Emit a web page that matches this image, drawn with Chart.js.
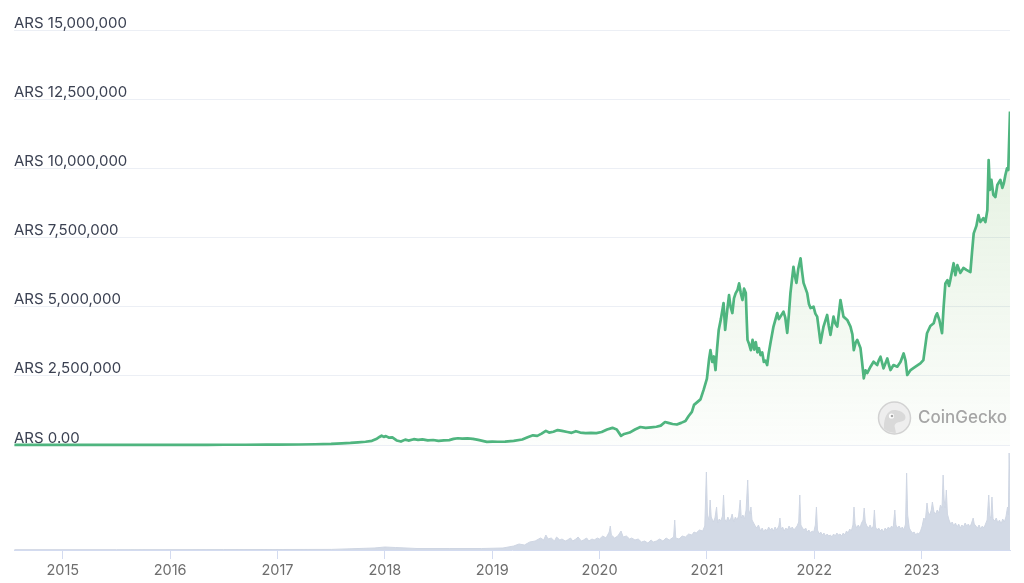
<!DOCTYPE html>
<html>
<head>
<meta charset="utf-8">
<script src="https://cdn.jsdelivr.net/npm/chart.js@4.4.0/dist/chart.umd.min.js"></script>
<style>
html,body{margin:0;padding:0;background:#ffffff;}
#wrap{width:1024px;height:583px;position:relative;}
canvas{display:block;}
</style>
</head>
<body>
<div id="wrap"><canvas id="c" width="1024" height="583"></canvas></div>
<script>
// Time in decimal years, BTC price in ARS
const priceTimes = [
2014.55,2014.70,2014.85,2015.00,2015.20,2015.45,2015.70,2015.90,2016.10,2016.35,2016.50,2016.70,2016.90,
2017.00,2017.20,2017.35,2017.50,2017.60,2017.68,2017.75,2017.82,2017.88,2017.92,2017.95,2017.97,2017.99,
2018.01,2018.04,2018.07,2018.11,2018.15,2018.19,2018.22,2018.27,2018.31,2018.35,2018.40,2018.45,2018.50,
2018.55,2018.60,2018.64,2018.68,2018.72,2018.77,2018.82,2018.87,2018.91,2018.95,
2019.00,2019.05,2019.12,2019.20,2019.28,2019.33,2019.38,2019.42,2019.46,2019.50,2019.53,2019.57,2019.61,
2019.65,2019.70,2019.74,2019.78,2019.82,2019.87,2019.92,2019.97,
2020.02,2020.07,2020.12,2020.16,2020.20,2020.23,2020.28,2020.33,2020.38,2020.43,2020.48,2020.53,2020.57,
2020.61,2020.64,2020.68,2020.72,2020.76,2020.80,2020.83,2020.86,2020.88,2020.91,2020.94,2020.97,
2021.00,2021.02,2021.033,2021.05,2021.065,2021.08,2021.095,2021.11,2021.13,2021.155,2021.17,2021.19,
2021.206,2021.22,2021.237,2021.252,2021.268,2021.285,2021.30,2021.315,2021.331,2021.346,2021.362,2021.37,
2021.378,2021.393,2021.409,2021.425,2021.44,2021.455,2021.47,2021.485,2021.499,2021.515,2021.53,2021.545,
2021.561,2021.575,2021.592,2021.62,2021.655,2021.67,2021.685,2021.713,2021.73,2021.748,2021.763,2021.778,
2021.806,2021.82,2021.834,2021.85,2021.872,2021.885,2021.90,2021.934,2021.95,2021.965,2021.993,
2022.01,2022.027,2022.045,2022.058,2022.086,2022.12,2022.135,2022.151,2022.179,2022.195,2022.214,2022.244,
2022.26,2022.272,2022.307,2022.337,2022.355,2022.368,2022.385,2022.40,2022.43,2022.445,2022.461,2022.477,
2022.493,2022.524,2022.552,2022.586,2022.60,2022.617,2022.645,2022.68,2022.695,2022.71,2022.738,2022.773,
2022.804,2022.832,2022.85,2022.866,2022.897,2022.923,2022.95,2022.988,
2023.016,2023.05,2023.081,2023.112,2023.13,2023.144,2023.165,2023.19,2023.205,2023.221,2023.24,2023.255,
2023.267,2023.298,2023.314,2023.333,2023.361,2023.389,2023.417,2023.454,2023.47,2023.485,2023.51,2023.529,
2023.547,2023.575,2023.594,2023.612,2023.624,2023.636,2023.65,2023.668,2023.687,2023.705,2023.733,2023.752,
2023.766,2023.78,2023.795,2023.807,2023.815,2023.823
];
const priceValues = [
5200,4000,3300,2800,2400,2600,3200,4200,4300,6000,9500,8800,11500,
16000,17500,27000,40000,62000,75000,95000,118000,150000,215000,290000,336000,295000,
320000,265000,275000,165000,125000,195000,160000,210000,185000,205000,165000,180000,150000,
170000,175000,220000,245000,230000,240000,220000,185000,150000,115000,
125000,118000,125000,150000,200000,280000,350000,330000,410000,510000,450000,480000,540000,
510000,470000,440000,500000,450000,430000,440000,430000,
470000,560000,620000,560000,330000,400000,450000,560000,650000,620000,640000,660000,700000,
830000,800000,760000,740000,800000,870000,1050000,1200000,1450000,1550000,1650000,2000000,
2400000,3100000,3430000,3000000,3200000,2710000,3500000,4160000,4550000,5130000,4160000,4900000,
5420000,5000000,4770000,5300000,5490000,5600000,5840000,5500000,5240000,5650000,5490000,4600000,
3800000,3650000,3430000,3800000,3450000,3720000,3350000,3500000,3250000,3350000,3000000,3050000,
2890000,3300000,3690000,4280000,4770000,4550000,4640000,4820000,4600000,4050000,4700000,5490000,
6440000,6100000,5860000,6350000,6750000,6300000,5860000,5490000,5100000,4950000,5000000,
4750000,4640000,4100000,3690000,4280000,4700000,4300000,3980000,4640000,4400000,4280000,5240000,
4900000,4640000,4520000,4280000,4000000,3430000,3700000,3800000,3510000,3000000,2410000,2700000,
2600000,2830000,3010000,2890000,3050000,3190000,2770000,3130000,2900000,2710000,2890000,2830000,
3010000,3310000,3050000,2530000,2710000,2780000,2850000,2950000,
3070000,4040000,4300000,4400000,4650000,4760000,4520000,4040000,5000000,5840000,5960000,5750000,
5960000,6570000,6140000,6500000,6220000,6400000,6330000,6250000,7000000,7650000,7920000,8310000,
8060000,8200000,8060000,8490000,10300000,9220000,9580000,9040000,8960000,9400000,9580000,9290000,
9470000,9760000,10000000,9940000,11000000,12050000
];
// Trading volume (relative units)
const volumeTimes = [
2014.55,2015.5,2016.5,2017.5,2017.9,2018.0,2018.1,2018.3,2018.6,2018.9,2019.1,2019.2,2019.25,2019.3,
2019.35,2019.4,2019.45,2019.48,2019.5,2019.52,2019.55,2019.58,2019.6,2019.63,2019.65,2019.68,2019.7,
2019.73,2019.75,2019.78,2019.8,2019.83,2019.85,2019.88,2019.9,2019.93,2019.95,2019.98,
2020.0,2020.03,2020.06,2020.09,2020.1,2020.11,2020.14,2020.17,2020.2,2020.22,2020.25,2020.28,2020.3,
2020.33,2020.36,2020.39,2020.42,2020.45,2020.48,2020.5,2020.53,2020.56,2020.59,2020.62,2020.65,2020.69,
2020.7,2020.71,2020.74,2020.77,2020.8,2020.83,2020.86,2020.88,2020.9,2020.93,2020.96,2020.98,2020.995,
2021.005,2021.02,2021.03,2021.04,2021.06,2021.075,2021.09,2021.1,2021.115,2021.13,2021.145,2021.155,
2021.165,2021.18,2021.195,2021.21,2021.225,2021.235,2021.25,2021.265,2021.28,2021.295,2021.31,2021.32,
2021.335,2021.35,2021.365,2021.38,2021.39,2021.4,2021.41,2021.42,2021.435,2021.45,2021.465,2021.48,
2021.5,2021.515,2021.53,2021.545,2021.56,2021.575,2021.59,2021.605,2021.62,2021.635,2021.65,2021.67,
2021.68,2021.69,2021.705,2021.72,2021.735,2021.75,2021.765,2021.78,2021.795,2021.81,2021.825,2021.84,
2021.855,2021.865,2021.875,2021.89,2021.905,2021.92,2021.935,2021.95,2021.965,2021.98,2021.995,
2022.01,2022.02,2022.03,2022.045,2022.06,2022.075,2022.09,2022.105,2022.12,2022.135,2022.15,2022.165,
2022.18,2022.195,2022.21,2022.225,2022.24,2022.255,2022.27,2022.285,2022.3,2022.315,2022.33,2022.345,
2022.36,2022.37,2022.38,2022.395,2022.41,2022.425,2022.44,2022.455,2022.465,2022.475,2022.49,2022.505,
2022.52,2022.535,2022.55,2022.56,2022.57,2022.585,2022.6,2022.615,2022.63,2022.645,2022.66,2022.675,
2022.69,2022.705,2022.72,2022.735,2022.75,2022.76,2022.775,2022.79,2022.805,2022.82,2022.835,2022.85,
2022.86,2022.87,2022.885,2022.9,2022.915,2022.93,2022.945,2022.96,2022.975,2022.99,
2023.005,2023.02,2023.035,2023.05,2023.06,2023.075,2023.09,2023.1,2023.115,2023.13,2023.145,2023.16,
2023.175,2023.19,2023.2,2023.21,2023.22,2023.23,2023.24,2023.255,2023.27,2023.285,2023.3,2023.315,
2023.33,2023.345,2023.36,2023.375,2023.39,2023.405,2023.42,2023.435,2023.45,2023.465,2023.48,2023.49,
2023.505,2023.52,2023.535,2023.55,2023.565,2023.58,2023.595,2023.61,2023.625,2023.635,2023.645,2023.655,
2023.665,2023.68,2023.695,2023.71,2023.725,2023.74,2023.755,2023.77,2023.785,2023.8,2023.808,2023.815,
2023.823
];
const volumeValues = [
0.3,0.3,0.4,0.6,2,3,2.5,1.5,1.5,1.5,2,4,6,5,
8,9,12,10,15,11,12,9,13,10,11,9,10,
12,9,11,13,9,10,12,9,11,10,12,
11,14,12,18,24,15,12,14,19,13,14,11,12,
10,11,8,9,7,10,8,9,11,9,12,10,13,
30,12,11,14,13,16,15,18,17,20,19,24,78,
35,30,50,33,28,32,43,27,31,29,34,55,
31,28,33,29,32,36,28,33,30,34,50,32,
35,31,40,70,40,36,43,30,27,24,22,25,
19,22,18,21,19,23,20,22,19,23,20,24,
32,21,23,19,22,20,24,21,23,20,22,24,
28,55,25,22,20,22,18,20,17,19,18,
25,43,20,16,18,15,17,14,16,14,15,13,
16,14,17,15,16,14,17,15,19,17,21,19,
25,43,26,22,25,22,27,30,42,28,24,22,
25,21,24,40,23,20,22,19,21,18,22,20,
23,21,24,22,40,25,22,24,21,23,20,26,
77,35,22,19,17,18,15,17,16,19,
24,32,30,47,38,35,40,48,38,36,40,37,
45,42,75,50,42,60,36,30,26,28,24,27,
23,26,22,25,23,27,24,26,23,27,32,26,
24,22,25,21,24,22,26,30,55,34,32,53,
31,29,32,27,30,26,31,28,33,43,35,97,
60
];
const xTickYears = [2015,2016,2017,2018,2019,2020,2021,2022,2023];
const yTickValues = [0,2500000,5000000,7500000,10000000,12500000,15000000];

const priceData = priceTimes.map((t,i)=>({x:t,y:priceValues[i]}));
const volumeData = volumeTimes.map((t,i)=>({x:t,y:volumeValues[i]}));

const watermark = {
  id:'watermark',
  afterDatasetsDraw(chart){
    const ctx = chart.ctx;
    ctx.save();
    const cx = 894.5, cy = 418, r = 16;
    ctx.beginPath(); ctx.arc(cx,cy,r,0,Math.PI*2);
    ctx.fillStyle = '#eeeeee'; ctx.fill();
    ctx.lineWidth = 1.5; ctx.strokeStyle = '#d2d2d2'; ctx.stroke();
    ctx.save();
    ctx.beginPath(); ctx.arc(cx,cy,r-1,0,Math.PI*2); ctx.clip();
    ctx.beginPath();
    ctx.moveTo(cx-10, cy+17);
    ctx.bezierCurveTo(cx-12, cy+4, cx-9, cy-9, cx+1, cy-8);
    ctx.bezierCurveTo(cx+9, cy-7, cx+13, cy-2, cx+10, cy+2);
    ctx.bezierCurveTo(cx+6, cy+5, cx+1, cy+3, cx, cy+8);
    ctx.lineTo(cx+2, cy+17);
    ctx.closePath();
    ctx.fillStyle = '#d9d9d9'; ctx.fill();
    ctx.restore();
    ctx.beginPath(); ctx.arc(cx-3,cy-2,2.6,0,Math.PI*2); ctx.fillStyle='#ffffff'; ctx.fill();
    ctx.beginPath(); ctx.arc(cx-2.5,cy-2,1.3,0,Math.PI*2); ctx.fillStyle='#a8a8a8'; ctx.fill();
    ctx.font = '500 17px Inter, "Noto Sans", sans-serif';
    ctx.fillStyle = '#a6a6a6';
    ctx.textBaseline = 'middle';
    ctx.textAlign = 'left';
    ctx.fillText('CoinGecko', 918, 418);
    ctx.restore();
  }
};

new Chart(document.getElementById('c'), {
  type: 'line',
  data: {
    datasets: [
      {
        label: 'Volume',
        data: volumeData,
        yAxisID: 'yv',
        borderColor: '#cfd6e3',
        backgroundColor: '#d3dae6',
        borderWidth: 1,
        pointRadius: 0,
        tension: 0,
        fill: 'origin',
        order: 2
      },
      {
        label: 'Price',
        data: priceData,
        yAxisID: 'y',
        borderColor: '#4fb57f',
        borderWidth: 2.7,
        pointRadius: 0,
        tension: 0,
        borderJoinStyle: 'round',
        fill: 'origin',
        backgroundColor: (ctx) => {
          const ch = ctx.chart; const ca = ch.chartArea;
          if (!ca) return 'rgba(110,180,90,0.1)';
          const y0 = ch.scales.y.getPixelForValue(0);
          const g = ch.ctx.createLinearGradient(0, ca.top, 0, y0);
          g.addColorStop(0, 'rgba(110,180,90,0.24)');
          g.addColorStop(1, 'rgba(110,180,90,0.02)');
          return g;
        },
        order: 1
      }
    ]
  },
  options: {
    responsive: false,
    animation: false,
    devicePixelRatio: 1,
    layout: { padding: { top: 30, left: 14, right: 14, bottom: 0 } },
    plugins: { legend: { display: false }, tooltip: { enabled: false } },
    scales: {
      x: {
        type: 'linear',
        min: 2014.546,
        max: 2023.823,
        afterBuildTicks: (s) => { s.ticks = xTickYears.map(v => ({ value: v })); },
        afterFit: (s) => { s.height = 33; },
        grid: { drawOnChartArea: false, drawTicks: true, tickLength: 9, color: '#d3dbf0' },
        border: { display: true, color: '#d3dbf0', width: 1 },
        ticks: {
          padding: 3,
          color: '#6e6e6e',
          font: { family: 'Inter, "Noto Sans", sans-serif', size: 14.5 },
          callback: (v) => String(v),
          maxRotation: 0
        }
      },
      y: {
        type: 'linear',
        position: 'left',
        min: -3795000,
        max: 15000000,
        afterBuildTicks: (s) => { s.ticks = yTickValues.map(v => ({ value: v })); },
        afterFit: (s) => { s.width = 0; },
        grid: { drawTicks: false, color: '#eceff5', lineWidth: 1 },
        border: { display: false },
        ticks: {
          mirror: true,
          padding: 0,
          labelOffset: -7,
          color: '#3b4152',
          font: { family: 'Inter, "Noto Sans", sans-serif', size: 15 },
          callback: (v) => v === 0 ? 'ARS 0.00' : 'ARS ' + Number(v).toLocaleString('en-US')
        }
      },
      yv: {
        type: 'linear',
        display: false,
        min: 0,
        max: 520
      }
    }
  },
  plugins: [watermark]
});
</script>
</body>
</html>
